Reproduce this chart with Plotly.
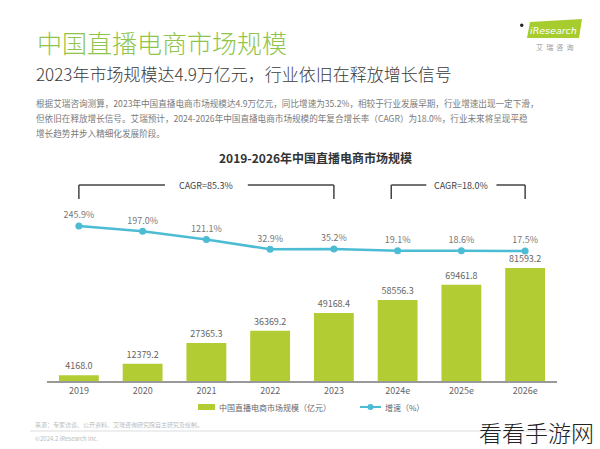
import plotly.graph_objects as go

# ---------------- data ----------------
years = ["2019", "2020", "2021", "2022", "2023", "2024e", "2025e", "2026e"]
market_size = [4168.0, 12379.2, 27365.3, 36369.2, 49168.4, 58556.3, 69461.8, 81593.2]
growth_rate = [245.9, 197.0, 121.1, 32.9, 35.2, 19.1, 18.6, 17.5]
growth_labels = ["245.9%", "197.0%", "121.1%", "32.9%", "35.2%", "19.1%", "18.6%", "17.5%"]
cagr_labels = ["CAGR=85.3%", "CAGR=18.0%"]

W, H = 600, 449
FONT = "Noto Sans CJK SC"
BAR_COLOR = "#b2cc34"
LINE_COLOR = "#4cbcd4"
GREEN = "#8fc54a"


def X(px):
    return px / W


def Y(py):
    return 1 - py / H


fig = go.Figure()

fig.add_trace(go.Bar(
    x=years, y=market_size, name="中国直播电商市场规模（亿元）",
    marker=dict(color=BAR_COLOR, line=dict(width=0)),
    text=[f"{v:.1f}" for v in market_size], textposition="outside",
    textfont=dict(size=9, color="#666666", family=FONT),
    cliponaxis=False, showlegend=False,
))

fig.add_trace(go.Scatter(
    x=years, y=growth_rate, name="增速（%）", yaxis="y2",
    mode="lines+markers+text",
    line=dict(color=LINE_COLOR, width=2.5),
    marker=dict(color=LINE_COLOR, size=7),
    text=growth_labels, textposition="top center",
    textfont=dict(size=9, color="#777777", family=FONT),
    cliponaxis=False, showlegend=False,
))

annotations = []
shapes = []

# header texts
annotations.append(dict(text="中国直播电商市场规模", x=X(35), y=Y(42), xref="paper", yref="paper",
                        xanchor="left", yanchor="middle", showarrow=False,
                        font=dict(size=25, color=GREEN, family=FONT, weight=300)))
annotations.append(dict(text="2023年市场规模达4.9万亿元，行业依旧在释放增长信号", x=X(34), y=Y(73),
                        xref="paper", yref="paper", xanchor="left", yanchor="middle", showarrow=False,
                        font=dict(size=17, color="#3a3a3a", family=FONT, weight=300)))
para = [
    "根据艾瑞咨询测算，2023年中国直播电商市场规模达4.9万亿元，同比增速为35.2%，相较于行业发展早期，行业增速出现一定下滑，",
    "但依旧在释放增长信号。艾瑞预计，2024-2026年中国直播电商市场规模的年复合增长率（CAGR）为18.0%，行业未来将呈现平稳",
    "增长趋势并步入精细化发展阶段。",
]
for i, line in enumerate(para):
    annotations.append(dict(text=line, x=X(34), y=Y(103 + 15 * i), xref="paper", yref="paper",
                            xanchor="left", yanchor="middle", showarrow=False,
                            font=dict(size=8.6, color="#7a7a7a", family=FONT)))

annotations.append(dict(text="<b>2019-2026年中国直播电商市场规模</b>", x=X(315), y=Y(158),
                        xref="paper", yref="paper", xanchor="center", yanchor="middle", showarrow=False,
                        font=dict(size=12, color="#333333", family=FONT)))

# logo
shapes.append(dict(type="path", xref="paper", yref="paper",
                   path=f"M {X(527)},{Y(38)} L {X(530)},{Y(22)} L {X(582)},{Y(19)} L {X(579)},{Y(38)} Z",
                   fillcolor="#a6cc2e", line=dict(width=0)))
shapes.append(dict(type="circle", xref="paper", yref="paper", x0=X(520), x1=X(523.5), y0=Y(27), y1=Y(23.5),
                   fillcolor="#222222", line=dict(width=0)))
annotations.append(dict(text="<i>iResearch</i>", x=X(553), y=Y(30), xref="paper", yref="paper",
                        xanchor="center", yanchor="middle", showarrow=False,
                        font=dict(size=9.5, color="white", family="DejaVu Sans")))
annotations.append(dict(text="艾  瑞  咨  询", x=X(554), y=Y(47), xref="paper", yref="paper",
                        xanchor="center", yanchor="middle", showarrow=False,
                        font=dict(size=7, color="#999999", family=FONT)))

# CAGR brackets
br_top, br_bot = 185, 199
for (x0, x1, tx0, tx1, label) in [(0, 4, 1.35, 2.65, cagr_labels[0]), (4.9, 7, 5.45, 6.55, cagr_labels[1])]:
    line_style = dict(color="#444444", width=1.5)
    shapes.append(dict(type="line", xref="x", yref="paper", x0=x0, x1=x0, y0=Y(br_bot), y1=Y(br_top), line=line_style))
    shapes.append(dict(type="line", xref="x", yref="paper", x0=x1, x1=x1, y0=Y(br_bot), y1=Y(br_top), line=line_style))
    shapes.append(dict(type="line", xref="x", yref="paper", x0=x0, x1=tx0, y0=Y(br_top), y1=Y(br_top), line=line_style))
    shapes.append(dict(type="line", xref="x", yref="paper", x0=tx1, x1=x1, y0=Y(br_top), y1=Y(br_top), line=line_style))
    annotations.append(dict(text=label, x=(tx0 + tx1) / 2, y=Y(br_top), xref="x", yref="paper",
                            xanchor="center", yanchor="middle", showarrow=False,
                            font=dict(size=9, color="#444444", family=FONT)))

# custom legend
shapes.append(dict(type="rect", xref="paper", yref="paper", x0=X(198), x1=X(215), y0=Y(410), y1=Y(404),
                   fillcolor=BAR_COLOR, line=dict(width=0)))
annotations.append(dict(text="中国直播电商市场规模（亿元）", x=X(217), y=Y(407), xref="paper", yref="paper",
                        xanchor="left", yanchor="middle", showarrow=False,
                        font=dict(size=8, color="#666666", family=FONT)))
shapes.append(dict(type="line", xref="paper", yref="paper", x0=X(360), x1=X(381), y0=Y(407), y1=Y(407),
                   line=dict(color=LINE_COLOR, width=2)))
shapes.append(dict(type="circle", xref="paper", yref="paper", x0=X(367.5), x1=X(373.5), y0=Y(410), y1=Y(404),
                   fillcolor=LINE_COLOR, line=dict(width=0)))
annotations.append(dict(text="增速（%）", x=X(383), y=Y(407), xref="paper", yref="paper",
                        xanchor="left", yanchor="middle", showarrow=False,
                        font=dict(size=8, color="#666666", family=FONT)))

# footer
annotations.append(dict(text="来源：专家访谈、公开资料、艾瑞咨询研究院自主研究及绘制。", x=X(33), y=Y(424),
                        xref="paper", yref="paper", xanchor="left", yanchor="middle", showarrow=False,
                        font=dict(size=6, color="#bbbbbb", family=FONT)))
shapes.append(dict(type="line", xref="paper", yref="paper", x0=X(30), x1=X(592), y0=Y(431), y1=Y(431),
                   line=dict(color="#dddddd", width=1)))
annotations.append(dict(text="©2024.2 iResearch Inc.", x=X(33), y=Y(438), xref="paper", yref="paper",
                        xanchor="left", yanchor="middle", showarrow=False,
                        font=dict(size=6, color="#bbbbbb", family=FONT)))

# watermark
annotations.append(dict(text="看看手游网", x=X(596), y=Y(432), xref="paper", yref="paper",
                        xanchor="right", yanchor="middle", showarrow=False,
                        font=dict(size=23, color="#222222", family=FONT, weight=300)))

fig.update_layout(
    width=W, height=H,
    margin=dict(l=0, r=0, t=0, b=0),
    paper_bgcolor="white", plot_bgcolor="white",
    bargap=0.375,
    showlegend=False,
    font=dict(family=FONT),
    xaxis=dict(domain=[X(47), X(557)], type="category", showgrid=False, zeroline=False,
               showline=True, linecolor="#999999", linewidth=1.5, ticks="",
               tickfont=dict(size=9, color="#666666", family=FONT)),
    yaxis=dict(domain=[Y(381), Y(175)], range=[0, 148736], visible=False, showgrid=False, zeroline=False),
    yaxis2=dict(overlaying="y", range=[-1170, 711], visible=False, showgrid=False, zeroline=False),
    annotations=annotations,
    shapes=shapes,
)

fig.write_html("out.html", config={"displayModeBar": False},
               post_script="document.body.style.margin='0';document.body.style.overflow='hidden';")
